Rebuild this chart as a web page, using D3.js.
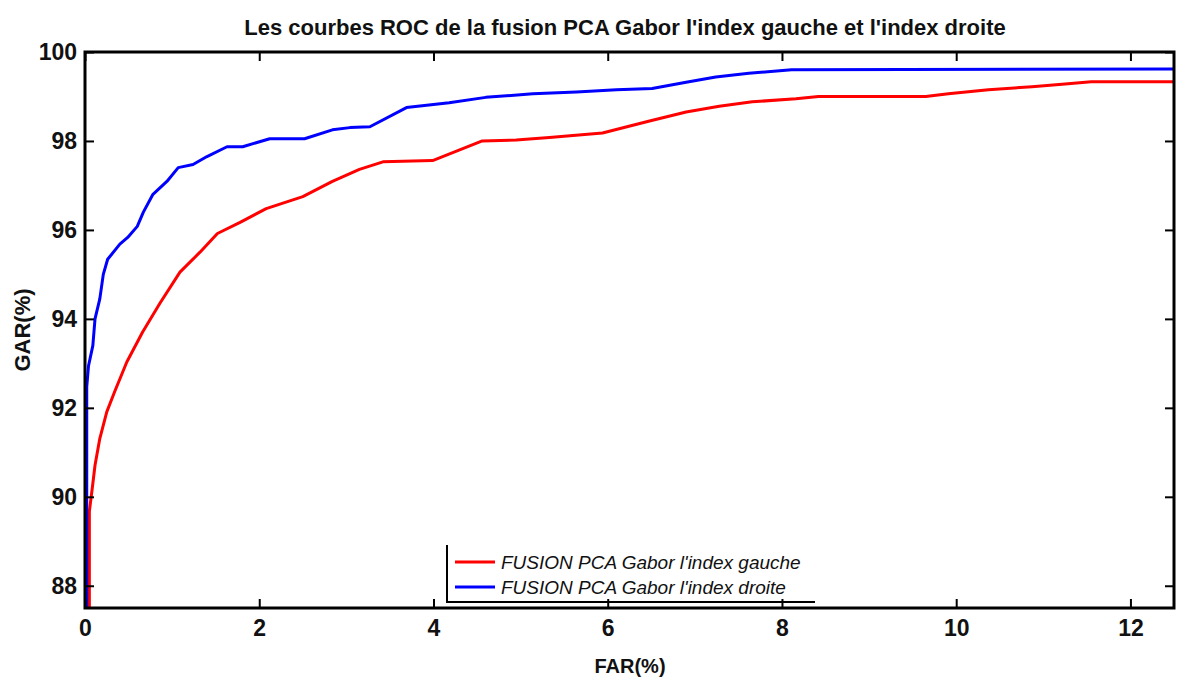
<!DOCTYPE html>
<html>
<head>
<meta charset="utf-8">
<script src="https://cdn.jsdelivr.net/npm/d3@7"></script>
<style>
  html, body { margin: 0; padding: 0; background: #fff; }
  svg { display: block; }
  .narrow { font-family: "Liberation Sans Narrow", "Arial Narrow", "Liberation Sans", sans-serif; }
</style>
</head>
<body>
<svg id="chart" width="1178" height="678"></svg>
<script>
// ROC curves: false acceptance rate (FAR, %) vs genuine acceptance rate (GAR, %)
const farGauche = [0.05, 0.05, 0.09, 0.115, 0.17, 0.25, 0.34, 0.48, 0.66, 0.86, 1.09, 1.32, 1.52, 1.78, 2.08, 2.5, 2.84, 3.15, 3.42, 3.99, 4.56, 4.95, 5.33, 5.94, 6.48, 6.9, 7.28, 7.66, 8.16, 8.42, 9.65, 9.91, 10.37, 10.87, 11.25, 11.55, 12.5];
const garGauche = [87.5, 89.67, 90.3, 90.71, 91.31, 91.91, 92.36, 93.03, 93.7, 94.35, 95.05, 95.5, 95.92, 96.17, 96.48, 96.75, 97.09, 97.36, 97.53, 97.56, 98.0, 98.02, 98.08, 98.18, 98.45, 98.65, 98.78, 98.88, 98.95, 99.0, 99.0, 99.06, 99.15, 99.22, 99.28, 99.33, 99.33];

const farDroite = [0.02, 0.02, 0.04, 0.09, 0.115, 0.17, 0.21, 0.26, 0.40, 0.49, 0.60, 0.67, 0.78, 0.94, 1.07, 1.24, 1.40, 1.63, 1.81, 2.12, 2.52, 2.84, 3.04, 3.27, 3.69, 4.18, 4.6, 5.14, 5.64, 6.1, 6.51, 6.9, 7.24, 7.62, 8.11, 12.5];
const garDroite = [87.5, 92.47, 92.94, 93.4, 94.0, 94.45, 95.0, 95.34, 95.68, 95.83, 96.08, 96.4, 96.8, 97.09, 97.4, 97.47, 97.65, 97.87, 97.87, 98.05, 98.05, 98.25, 98.3, 98.32, 98.75, 98.86, 98.98, 99.06, 99.1, 99.15, 99.18, 99.32, 99.44, 99.52, 99.6, 99.62];

const xTicks = [0, 2, 4, 6, 8, 10, 12];
const yTicks = [88, 90, 92, 94, 96, 98, 100];

const seriesNames = ["FUSION PCA Gabor l'index gauche", "FUSION PCA Gabor l'index droite"];
const seriesColors = ["#ff0000", "#0000ff"];

const titleText = "Les courbes ROC de la fusion PCA Gabor l'index gauche et l'index droite";
const xLabel = "FAR(%)";
const yLabel = "GAR(%)";

const margin = { left: 85, top: 52, right: 4, bottom: 70 };
const W = 1178, H = 678;
const pw = W - margin.left - margin.right;
const ph = H - margin.top - margin.bottom;

const svg = d3.select("#chart");
const textColor = "#111";

const x = d3.scaleLinear().domain([0, 12.5]).range([0, pw]);
const y = d3.scaleLinear().domain([87.5, 100]).range([ph, 0]);

const g = svg.append("g").attr("transform", `translate(${margin.left},${margin.top})`);

g.append("defs").append("clipPath").attr("id", "plotClip")
  .append("rect").attr("x", 0).attr("y", 0).attr("width", pw).attr("height", ph);

// curves
const series = [
  farGauche.map((f, i) => [f, garGauche[i]]),
  farDroite.map((f, i) => [f, garDroite[i]])
];
const line = d3.line().x(d => x(d[0])).y(d => y(d[1]));
const curves = g.append("g").attr("clip-path", "url(#plotClip)");
series.forEach((s, i) => {
  curves.append("path").datum(s)
    .attr("d", line)
    .attr("fill", "none")
    .attr("stroke", seriesColors[i])
    .attr("stroke-width", 3)
    .attr("stroke-linejoin", "round");
});

// axes with inward ticks on all four sides
const tickLen = 9;
const fontTick = 23;

function styleAxis(sel) {
  sel.select(".domain").remove();
  sel.selectAll(".tick line").attr("stroke", "#000").attr("stroke-width", 2);
}

const xb = g.append("g").attr("transform", `translate(0,${ph})`)
  .call(d3.axisBottom(x).tickValues(xTicks).tickSize(-tickLen).tickPadding(14).tickFormat(d3.format("d")));
styleAxis(xb);
xb.selectAll("text").attr("class", "narrow").attr("font-size", fontTick).attr("font-weight", "bold")
  .attr("fill", textColor).attr("dy", "0.71em").attr("y", 12);

const xt = g.append("g")
  .call(d3.axisTop(x).tickValues(xTicks).tickSize(-tickLen).tickFormat(""));
styleAxis(xt);

const yl = g.append("g")
  .call(d3.axisLeft(y).tickValues(yTicks).tickSize(-tickLen).tickPadding(8).tickFormat(d3.format("d")));
styleAxis(yl);
yl.selectAll("text").attr("class", "narrow").attr("font-size", fontTick).attr("font-weight", "bold")
  .attr("fill", textColor).attr("x", -8);

const yr = g.append("g").attr("transform", `translate(${pw},0)`)
  .call(d3.axisRight(y).tickValues(yTicks).tickSize(-tickLen).tickFormat(""));
styleAxis(yr);

// frame
g.append("rect").attr("x", 0).attr("y", 0).attr("width", pw).attr("height", ph)
  .attr("fill", "none").attr("stroke", "#000").attr("stroke-width", 3);

// title and axis labels
svg.append("text").attr("class", "narrow")
  .attr("x", 625).attr("y", 35)
  .attr("text-anchor", "middle").attr("font-size", 22).attr("font-weight", "bold")
  .attr("fill", textColor).text(titleText);

svg.append("text").attr("class", "narrow")
  .attr("x", 630).attr("y", 673)
  .attr("text-anchor", "middle").attr("font-size", 20).attr("font-weight", "bold")
  .attr("fill", textColor).text(xLabel);

svg.append("text").attr("class", "narrow")
  .attr("transform", `translate(30,${margin.top + ph / 2}) rotate(-90)`)
  .attr("text-anchor", "middle").attr("font-size", 22).attr("font-weight", "bold")
  .attr("fill", textColor).text(yLabel);

// legend: left and bottom edges only
const lg = svg.append("g");
const lx0 = 447, ly0 = 545, lx1 = 815, ly1 = 602;
lg.append("path")
  .attr("d", `M${lx0},${ly0} L${lx0},${ly1} L${lx1},${ly1}`)
  .attr("fill", "none").attr("stroke", "#000").attr("stroke-width", 2);
seriesNames.forEach((name, i) => {
  const yy = 562 + i * 25;
  lg.append("line").attr("x1", 455).attr("x2", 495).attr("y1", yy).attr("y2", yy)
    .attr("stroke", seriesColors[i]).attr("stroke-width", 3);
  lg.append("text").attr("x", 501).attr("y", yy + 7)
    .attr("font-family", "'Liberation Sans', Arial, sans-serif")
    .attr("font-style", "italic").attr("font-size", 19)
    .attr("fill", textColor).text(name);
});
</script>
</body>
</html>
